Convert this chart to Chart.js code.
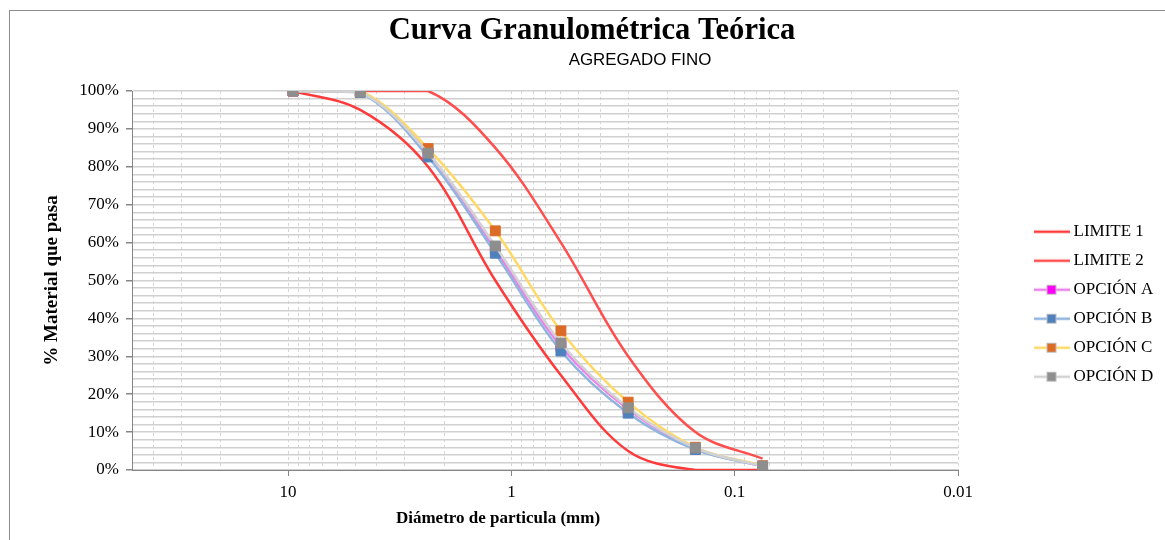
<!DOCTYPE html>
<html lang="es">
<head>
<meta charset="utf-8">
<title>Curva Granulométrica Teórica</title>
<script src="https://cdn.jsdelivr.net/npm/chart.js@4.4.1/dist/chart.umd.min.js"></script>
<style>
  html, body { margin: 0; padding: 0; background: #fff; }
  #wrap { position: relative; width: 1165px; height: 540px; overflow: hidden; }
  #frame { position: absolute; left: 9px; top: 10px; width: 1200px; height: 600px; border: 1px solid #8c8c8c; pointer-events: none; }
</style>
</head>
<body>
<div id="wrap">
  <canvas id="curva"></canvas>
  <div id="frame"></div>
</div>
<script>
// Abertura de tamices (mm)
const tamices = [9.5, 4.75, 2.36, 1.18, 0.6, 0.3, 0.15, 0.075];

// % que pasa
const limite1 = [100, 95, 80, 50, 25, 5, 0, 0];
const limite2 = [100, 100, 100, 85, 60, 30, 10, 3];
const opcionA = [100, 99.8, 83.6, 58.2, 32.6, 16.0, 5.6, 1.0];
const opcionB = [100, 99.6, 82.6, 57.2, 31.4, 15.0, 5.4, 1.0];
const opcionC = [100, 100, 84.8, 63.1, 36.7, 17.9, 6.0, 1.1];
const opcionD = [100, 99.7, 83.6, 59.1, 33.5, 16.4, 5.8, 1.0];

// etiquetas de ejes
const xTickValues = [10, 1, 0.1, 0.01];
const xTickLabels = ['10', '1', '0.1', '0.01'];
const yTickValues = [0, 10, 20, 30, 40, 50, 60, 70, 80, 90, 100];

const titulo = 'Curva Granulométrica Teórica';
const subtitulo = 'AGREGADO FINO';
const tituloX = 'Diámetro de particula (mm)';
const tituloY = '% Material que pasa';

const serif = "'Liberation Serif', 'Times New Roman', serif";
const ejeColor = '#868686';

function puntos(valores) {
    return tamices.map((t, i) => ({ x: t, y: valores[i] }));
}

// muestra de leyenda: linea + marcador
function muestra(linea, marca) {
    const c = document.createElement('canvas');
    c.width = 36;
    c.height = 12;
    const g = c.getContext('2d');
    g.strokeStyle = linea;
    g.lineWidth = 2.5;
    g.beginPath();
    g.moveTo(0, 6);
    g.lineTo(36, 6);
    g.stroke();
    if (marca) {
        g.fillStyle = marca;
        g.fillRect(14, 2, 8, 8);
        g.strokeStyle = '#bdbdbd';
        g.lineWidth = 1;
        g.strokeRect(13.5, 1.5, 9, 9);
    }
    return c;
}

const series = [
    { label: 'LIMITE 1', valores: limite1, linea: 'rgb(255,58,58)', marca: null },
    { label: 'LIMITE 2', valores: limite2, linea: 'rgb(255,78,78)', marca: null },
    { label: 'OPCIÓN A', valores: opcionA, linea: '#ec80ec', marca: '#ff00ff' },
    { label: 'OPCIÓN B', valores: opcionB, linea: '#8fb4e0', marca: '#4f81bd' },
    { label: 'OPCIÓN C', valores: opcionC, linea: '#ffd966', marca: '#dc6b26' },
    { label: 'OPCIÓN D', valores: opcionD, linea: '#d2d2d2', marca: '#8e8e8e' }
];

const muestras = series.map(s => muestra(s.linea, s.marca));

const datasets = series.map((s, i) => ({
    label: s.label,
    data: puntos(s.valores),
    borderColor: s.linea,
    backgroundColor: s.marca || s.linea,
    borderWidth: 2.5,
    tension: 0.35,
    fill: false,
    order: series.length - i,
    pointStyle: 'rect',
    pointRadius: s.marca ? 7 : 0,
    pointHoverRadius: s.marca ? 7 : 0,
    pointBackgroundColor: s.marca || s.linea,
    pointBorderColor: s.marca || s.linea,
    pointBorderWidth: 1
}));

// rejilla logaritmica 1..9 por decada
function ticksLog() {
    const out = [];
    for (let e = 1; e >= -2; e--) {
        for (let m = 9; m >= 1; m--) {
            const v = Number((m * Math.pow(10, e)).toPrecision(6));
            if (v <= 50 && v >= 0.01) out.push(v);
        }
    }
    return out;
}

const textos = {
    id: 'textos',
    afterDraw(chart) {
        const c = chart.ctx;
        c.save();
        c.fillStyle = '#000';
        c.textAlign = 'center';
        c.textBaseline = 'middle';
        c.font = 'bold 30.6px ' + serif;
        c.fillText(titulo, 592, 31);
        c.font = "16.9px 'Liberation Sans', Arial, sans-serif";
        c.fillText(subtitulo, 640, 60);
        c.font = 'bold 17px ' + serif;
        c.fillText(tituloX, 498, 519);
        c.restore();
    }
};

new Chart(document.getElementById('curva'), {
    type: 'line',
    data: { datasets: datasets },
    plugins: [textos],
    options: {
        responsive: true,
        maintainAspectRatio: false,
        animation: false,
        layout: { padding: { top: 91, left: 41, right: 9, bottom: 0 } },
        plugins: {
            title: { display: false },
            tooltip: { enabled: false },
            legend: {
                position: 'right',
                align: 'start',
                maxWidth: 130,
                title: { display: true, text: ' ', font: { size: 1 }, padding: { top: 119, bottom: 0 } },
                labels: {
                    usePointStyle: true,
                    pointStyleWidth: 27,
                    padding: 12,
                    color: '#000',
                    font: { family: serif, size: 17 },
                    generateLabels(chart) {
                        const items = Chart.defaults.plugins.legend.labels.generateLabels(chart);
                        items.forEach(it => { it.pointStyle = muestras[it.datasetIndex]; });
                        return items;
                    },
                    sort: (a, b) => a.datasetIndex - b.datasetIndex
                }
            }
        },
        scales: {
            x: {
                type: 'logarithmic',
                reverse: true,
                min: 0.01,
                max: 50,
                afterBuildTicks: s => { s.ticks = ticksLog().map(v => ({ value: v })); },
                afterFit: s => { s.height = 70; },
                grid: {
                    color: '#d6d6d6',
                    lineWidth: 1,
                    tickLength: 6,
                    tickColor: ctx => (ctx.tick && xTickValues.includes(ctx.tick.value)) ? ejeColor : 'rgba(0,0,0,0)'
                },
                border: { color: ejeColor, width: 1, dash: [3, 3] },
                ticks: {
                    autoSkip: false,
                    maxRotation: 0,
                    padding: 6,
                    color: '#000',
                    font: { family: serif, size: 17 },
                    callback: v => {
                        const i = xTickValues.indexOf(v);
                        return i >= 0 ? xTickLabels[i] : '';
                    }
                }
            },
            y: {
                min: 0,
                max: 100,
                afterFit: s => { s.width = 91; },
                grid: {
                    color: '#d0d0d0',
                    lineWidth: 1.5,
                    tickLength: 6,
                    tickColor: ctx => (ctx.tick && yTickValues.includes(ctx.tick.value)) ? ejeColor : 'rgba(0,0,0,0)'
                },
                border: { color: ejeColor, width: 1 },
                ticks: {
                    stepSize: 2,
                    autoSkip: false,
                    padding: 7,
                    color: '#000',
                    font: { family: serif, size: 17 },
                    callback: v => yTickValues.includes(v) ? v + '%' : ''
                },
                title: {
                    display: true,
                    text: tituloY,
                    color: '#000',
                    font: { family: serif, size: 19, weight: 'bold' },
                    padding: 0
                }
            },
            yR: {
                position: 'right',
                display: true,
                grid: { display: false },
                ticks: { display: false },
                border: { display: false },
                afterFit: s => { s.width = 68; }
            }
        }
    }
});
</script>
</body>
</html>
